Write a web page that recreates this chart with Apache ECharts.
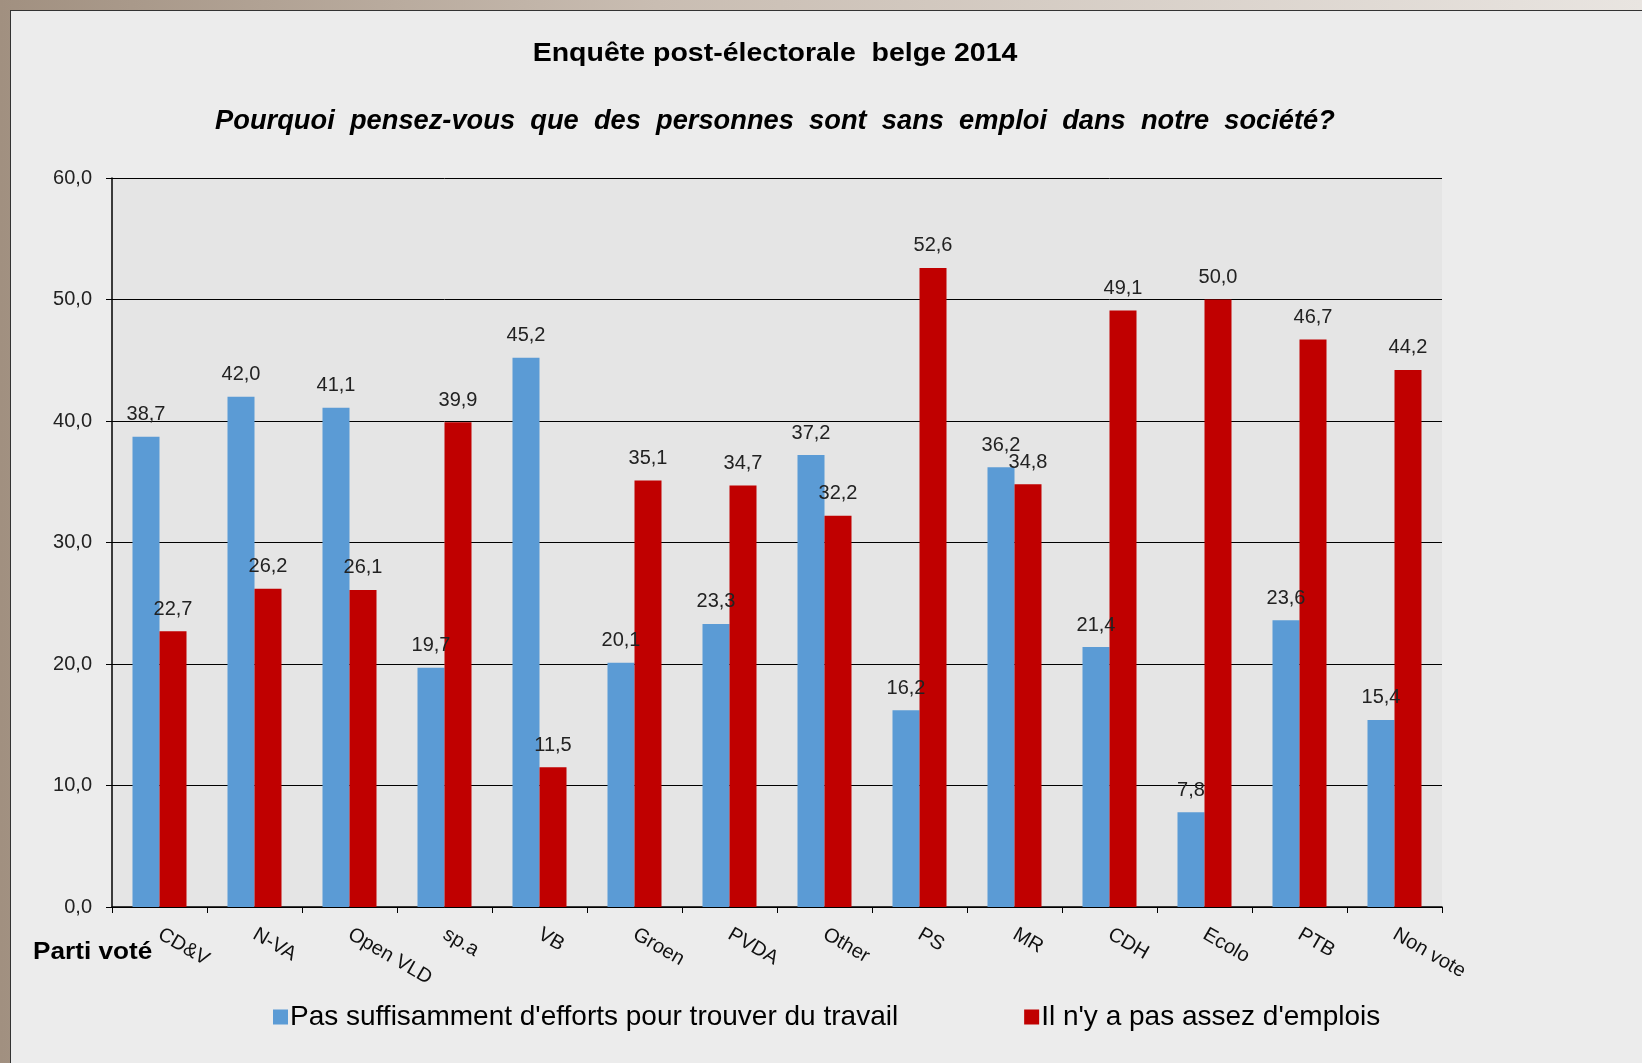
<!DOCTYPE html>
<html>
<head>
<meta charset="utf-8">
<script src="https://cdn.jsdelivr.net/npm/echarts@6/dist/echarts.min.js"></script>
<style>
html,body{margin:0;padding:0;width:1642px;height:1063px;overflow:hidden;}
body{background:linear-gradient(to right,#a19080 0%,#c9bdb2 40%,#e9e5e1 100%);}
#panel{position:absolute;left:10px;top:10px;width:1640px;height:1060px;background:#ececec;border:1px solid #333;box-sizing:border-box;}
#chart{position:absolute;left:0;top:0;width:1642px;height:1063px;}
</style>
</head>
<body>
<div id="panel"></div>
<div id="chart"></div>
<script>
const categories = ['CD&V','N-VA','Open VLD','sp.a','VB','Groen','PVDA','Other','PS','MR','CDH','Ecolo','PTB','Non vote'];
const effortsValues = [38.7,42.0,41.1,19.7,45.2,20.1,23.3,37.2,16.2,36.2,21.4,7.8,23.6,15.4];
const emploisValues = [22.7,26.2,26.1,39.9,11.5,35.1,34.7,32.2,52.6,34.8,49.1,50.0,46.7,44.2];
const seriesNames = ["Pas suffisamment d'efforts pour trouver du travail", "Il n'y a pas assez d'emplois"];
const yTicks = [0,10,20,30,40,50,60];

const fmt = v => Number(v).toFixed(1).replace('.', ',');
const FONT = '"Liberation Sans", Arial, sans-serif';

const chart = echarts.init(document.getElementById('chart'), null, {renderer:'canvas'});
chart.setOption({
  backgroundColor: 'transparent',
  textStyle: {fontFamily: FONT},
  animation: false,
  graphic: [
    {type:'text', x: 775, y: 42, scaleX: 1.14,
     style:{text:'Enquête post-électorale  belge 2014', font:'bold 25px '+FONT, fill:'#000', textAlign:'center', textVerticalAlign:'top'}},
    {type:'text', x: 775, y: 108, scaleX: 1.01,
     style:{text:'Pourquoi  pensez-vous  que  des  personnes  sont  sans  emploi  dans  notre  société?', font:'italic bold 27px '+FONT, fill:'#000', textAlign:'center', textVerticalAlign:'top'}},
    {type:'text', x: 33, y: 940, scaleX: 1.09,
     style:{text:'Parti voté', font:'bold 24px '+FONT, fill:'#000', textAlign:'left', textVerticalAlign:'top'}}
  ],
  legend: {
    data: seriesNames,
    left: 268, top: 998,
    itemWidth: 15, itemHeight: 15, itemGap: 126,
    icon: 'rect',
    textStyle: {fontSize: 28, color:'#000', fontFamily: FONT, padding:[0,0,0,-3]}
  },
  grid: {left:112, right:200, top:178, bottom:156, show:true, backgroundColor:'#e5e5e5', borderWidth:0},
  xAxis: {
    type:'category', data: categories,
    axisLine:{lineStyle:{color:'#000', width:1.5}},
    axisTick:{show:true, length:6, lineStyle:{color:'#000'}},
    axisLabel:{rotate:-30, margin:26, fontSize:20, color:'#111', fontFamily: FONT}
  },
  yAxis: {
    type:'value', min:0, max:60, interval:10,
    axisLine:{show:true, lineStyle:{color:'#000', width:1.5}},
    axisTick:{show:true, length:6, lineStyle:{color:'#000'}},
    axisLabel:{formatter: fmt, fontSize:20, color:'#222', margin:20, fontFamily: FONT},
    splitLine:{show:true, lineStyle:{color:'#000', width:1}}
  },
  series: [
    {name: seriesNames[0], type:'bar', data: effortsValues, barWidth:27, barGap:'0%',
     itemStyle:{color:'#5b9bd5'},
     label:{show:true, position:'top', distance:12, formatter: p => fmt(p.value), fontSize:20, color:'#222', fontFamily: FONT}},
    {name: seriesNames[1], type:'bar', data: emploisValues, barWidth:27, barGap:'0%',
     itemStyle:{color:'#c00000'},
     label:{show:true, position:'top', distance:12, formatter: p => fmt(p.value), fontSize:20, color:'#222', fontFamily: FONT}}
  ]
});
</script>
</body>
</html>
